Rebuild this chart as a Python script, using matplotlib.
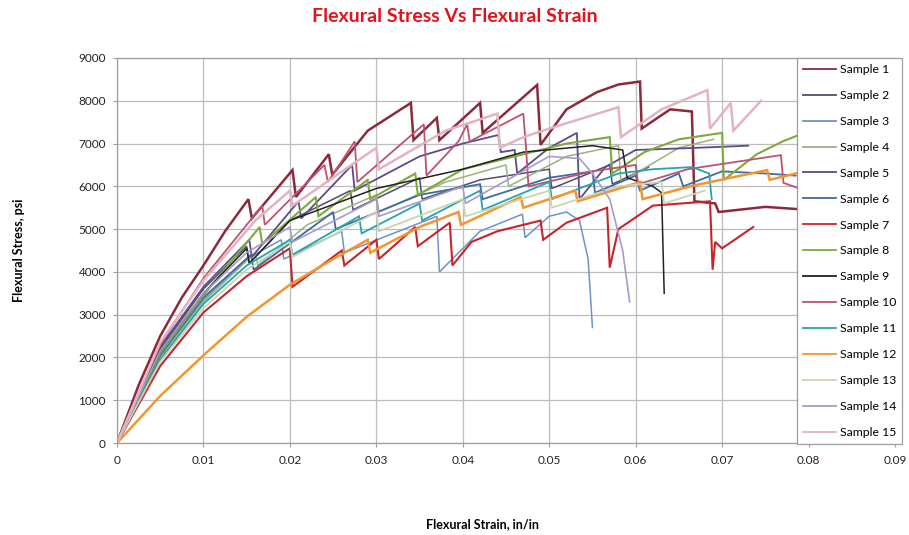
import matplotlib
matplotlib.use("Agg")
import matplotlib.pyplot as plt
from matplotlib.lines import Line2D

plt.rcParams['font.family'] = ['Lato', 'DejaVu Sans']

# Flexural strain (in/in) and stress (psi) vertices for each sample
s1_strain = [0, .0025, .005, .0075, .010, .0125, .0152, .0156, .0203, .0207, .0245, .0249, .0290, .0340, .0343,
             .0370, .0373, .0420, .0423, .0486, .0490, .0520, .0555, .0580, .0605, .0607, .0640, .0665, .0668,
             .0692, .0696, .0750, .0800]
s1_stress = [0, 1350, 2500, 3400, 4150, 4950, 5700, 5250, 6380, 5750, 6750, 6270, 7300, 7950, 7080,
             7600, 7080, 7950, 7250, 8370, 6970, 7800, 8200, 8380, 8450, 7350, 7800, 7750, 5650,
             5600, 5400, 5520, 5450]

s2_strain = [0, .005, .010, .0150, .0153, .0200, .0270, .0273, .0350, .0353, .0420, .0500, .0503, .0570, .0573, .0615]
s2_stress = [0, 2200, 3600, 4600, 4200, 5200, 5900, 5450, 6200, 5700, 6150, 6400, 5950, 6500, 6050, 6450]

s3_strain = [0, .005, .010, .0150, .0190, .0193, .0260, .0263, .0370, .0373, .0420, .0469, .0472, .0500,
             .0520, .0535, .0545, .0550]
s3_stress = [0, 2050, 3350, 4300, 4750, 4300, 4950, 4450, 5300, 4000, 4950, 5350, 4800, 5300,
             5400, 5200, 4300, 2700]

s4_strain = [0, .005, .010, .0160, .0163, .0220, .0300, .0303, .0380, .0450, .0453, .0520, .0580, .0583, .0650, .0690]
s4_stress = [0, 2000, 3300, 4450, 4150, 5100, 5800, 5400, 6100, 6500, 6000, 6700, 6950, 6100, 6900, 7100]

s5_strain = [0, .005, .010, .0153, .0156, .0210, .0213, .0272, .0275, .0350, .0400, .0441, .0444, .0460,
             .0463, .0500, .0532, .0535, .0565, .0600, .0670, .0730]
s5_stress = [0, 2250, 3650, 4750, 4350, 5650, 5250, 6500, 5900, 6700, 7000, 7200, 6800, 6850,
             6300, 6900, 7250, 5700, 6450, 6850, 6900, 6950]

s6_strain = [0, .005, .010, .0155, .0158, .0250, .0253, .0350, .0420, .0423, .0500, .0550, .0553, .0600,
             .0605, .0650, .0655, .0700, .0750, .0785]
s6_stress = [0, 2050, 3400, 4400, 4050, 5400, 5000, 5800, 6050, 5700, 6200, 6350, 5850, 6250,
             5900, 6300, 6000, 6350, 6300, 6250]

s7_strain = [0, .005, .010, .0150, .0200, .0203, .0260, .0263, .0300, .0303, .0345, .0348, .0385, .0388,
             .0410, .0440, .0490, .0493, .0520, .0567, .0570, .0580, .0620, .0686, .0689, .0692, .0700, .0736]
s7_stress = [0, 1800, 3050, 3900, 4550, 3650, 4500, 4150, 4750, 4300, 5050, 4600, 5150, 4150,
             4700, 4950, 5200, 4750, 5150, 5500, 4100, 5000, 5550, 5650, 4050, 4700, 4550, 5050]

s8_strain = [0, .005, .010, .0165, .0168, .0230, .0233, .0290, .0293, .0345, .0348, .0400, .0460, .0520,
             .0570, .0573, .0610, .0650, .0700, .0702, .0740, .0770, .0795]
s8_stress = [0, 2100, 3450, 5050, 4650, 5750, 5300, 6150, 5700, 6300, 5800, 6400, 6700, 7000,
             7150, 6300, 6800, 7100, 7250, 6150, 6750, 7050, 7250]

s9_strain = [0, .005, .010, .0150, .0153, .0200, .0300, .0400, .0470, .0550, .0585, .0590, .0620, .0630, .0633]
s9_stress = [0, 2150, 3500, 4550, 4200, 5200, 5950, 6400, 6800, 6950, 6850, 6200, 6000, 5850, 3500]

s10_strain = [0, .005, .010, .0168, .0171, .0240, .0244, .0275, .0278, .0355, .0358, .0395, .0405, .0408,
              .0470, .0473, .0476, .0550, .0600, .0603, .0660, .0768, .0771, .0795]
s10_stress = [0, 2300, 3850, 5550, 5100, 6500, 6100, 7050, 6100, 7450, 6250, 7050, 7450, 7050,
              7700, 6950, 6000, 6350, 6500, 6050, 6400, 6730, 6080, 5910]

s11_strain = [0, .005, .010, .0150, .0200, .0203, .0280, .0283, .0350, .0353, .0420, .0423, .0500, .0503,
              .0580, .0620, .0665, .0685, .0688]
s11_stress = [0, 1950, 3250, 4150, 4750, 4400, 5300, 4900, 5600, 5200, 5900, 5450, 6100, 5700,
              6300, 6400, 6450, 6300, 5700]

s12_strain = [0, .005, .010, .015, .020, .025, .0290, .0293, .035, .0395, .0398, .0467, .0470, .0530,
              .0533, .0605, .0608, .0663, .0752, .0755, .0795]
s12_stress = [0, 1100, 2050, 2950, 3700, 4300, 4750, 4450, 5050, 5400, 5100, 5750, 5500, 5900,
              5650, 6100, 5700, 6000, 6380, 6150, 6350]

s13_strain = [0, .005, .010, .015, .020, .0203, .030, .0303, .040, .0403, .050, .0503, .058, .063, .0633, .068]
s13_stress = [0, 1900, 3150, 4050, 4700, 4350, 5400, 4950, 5700, 5300, 5900, 5500, 6000, 6100, 5600, 5900]

s14_strain = [0, .005, .010, .015, .020, .0203, .030, .0303, .040, .0403, .050, .0535, .0550, .0570, .0585, .0593]
s14_stress = [0, 2150, 3500, 4450, 5050, 4700, 5700, 5300, 6000, 5600, 6700, 6650, 6300, 5700, 4500, 3300]

s15_strain = [0, .005, .010, .016, .0200, .0203, .0300, .0303, .0380, .0440, .0443, .0470, .0500, .0580, .0583,
              .0630, .0683, .0686, .0710, .0713, .0745]
s15_stress = [0, 2350, 3800, 5200, 5900, 5550, 6900, 6400, 7300, 7700, 6900, 7150, 7350, 7850, 7150,
              7800, 8250, 7350, 7950, 7300, 8000]

sample_labels = [f"Sample {i}" for i in range(1, 16)]
sample_colors = ['#8B2A3B', '#4E4E6E', '#6F93C3', '#9AB27E', '#5B4B8A', '#3E6BA0', '#C8242B', '#7EAA3C',
                 '#222222', '#BE5270', '#25A5AE', '#F39530', '#C8D4B4', '#A79BC9', '#E2B3C0']
sample_widths = [1.8, 1.1, 1.1, 1.1, 1.3, 1.3, 1.5, 1.5, 1.1, 1.3, 1.3, 1.8, 1.3, 1.2, 1.8]

series = [(s1_strain, s1_stress), (s2_strain, s2_stress), (s3_strain, s3_stress), (s4_strain, s4_stress),
          (s5_strain, s5_stress), (s6_strain, s6_stress), (s7_strain, s7_stress), (s8_strain, s8_stress),
          (s9_strain, s9_stress), (s10_strain, s10_stress), (s11_strain, s11_stress),
          (s12_strain, s12_stress), (s13_strain, s13_stress), (s14_strain, s14_stress),
          (s15_strain, s15_stress)]

x_ticks = [0, 0.01, 0.02, 0.03, 0.04, 0.05, 0.06, 0.07, 0.08, 0.09]
x_tick_labels = ["0", "0.01", "0.02", "0.03", "0.04", "0.05", "0.06", "0.07", "0.08", "0.09"]
y_ticks = [0, 1000, 2000, 3000, 4000, 5000, 6000, 7000, 8000, 9000]

fig = plt.figure(figsize=(9.09, 5.35), dpi=100)
ax = fig.add_axes([117 / 909, 92 / 535, 778 / 909, 385 / 535])

for (xs, ys), lab, col, lw in zip(series, sample_labels, sample_colors, sample_widths):
    ax.plot(xs, ys, color=col, lw=lw, label=lab, solid_joinstyle='miter')

ax.set_xlim(0, 0.09)
ax.set_ylim(0, 9000)
ax.set_xticks(x_ticks)
ax.set_xticklabels(x_tick_labels)
ax.set_yticks(y_ticks)
ax.grid(True, color='#BDBDBD', lw=0.9)
ax.set_axisbelow(True)
for sp in ax.spines.values():
    sp.set_color('#9E9E9E')
    sp.set_linewidth(0.9)
ax.tick_params(axis='both', labelsize=8.5, colors='#222222', length=3, color='#9E9E9E')
ax.tick_params(axis='x', pad=6)
ax.tick_params(axis='y', pad=5)

# thin legend keys
legend_keys = [Line2D([], [], color=c, lw=1.3) for c in sample_colors]
leg = fig.legend(legend_keys, sample_labels, loc='upper left', bbox_to_anchor=(797 / 909, 1 - 58 / 535),
                 fontsize=8.8, labelspacing=1.22, handlelength=2.7, handletextpad=0.3,
                 borderpad=0.5, borderaxespad=0, fancybox=False, framealpha=1,
                 edgecolor='#9E9E9E', frameon=True)
leg.get_frame().set_linewidth(0.9)

fig.text(0.5, 1 - 17 / 535, "Flexural Stress Vs Flexural Strain", ha='center', va='center',
         color='#E3131B', fontsize=14, fontweight='bold')
fig.text(19 / 909, 1 - 250 / 535, "Flexural Stress, psi", ha='center', va='center',
         rotation=90, fontsize=9, fontweight='bold')
fig.text(482 / 909, 1 - 524 / 535, "Flexural Strain, in/in", ha='center', va='center',
         fontsize=9, fontweight='bold')

fig.savefig("out.png", dpi=100)
